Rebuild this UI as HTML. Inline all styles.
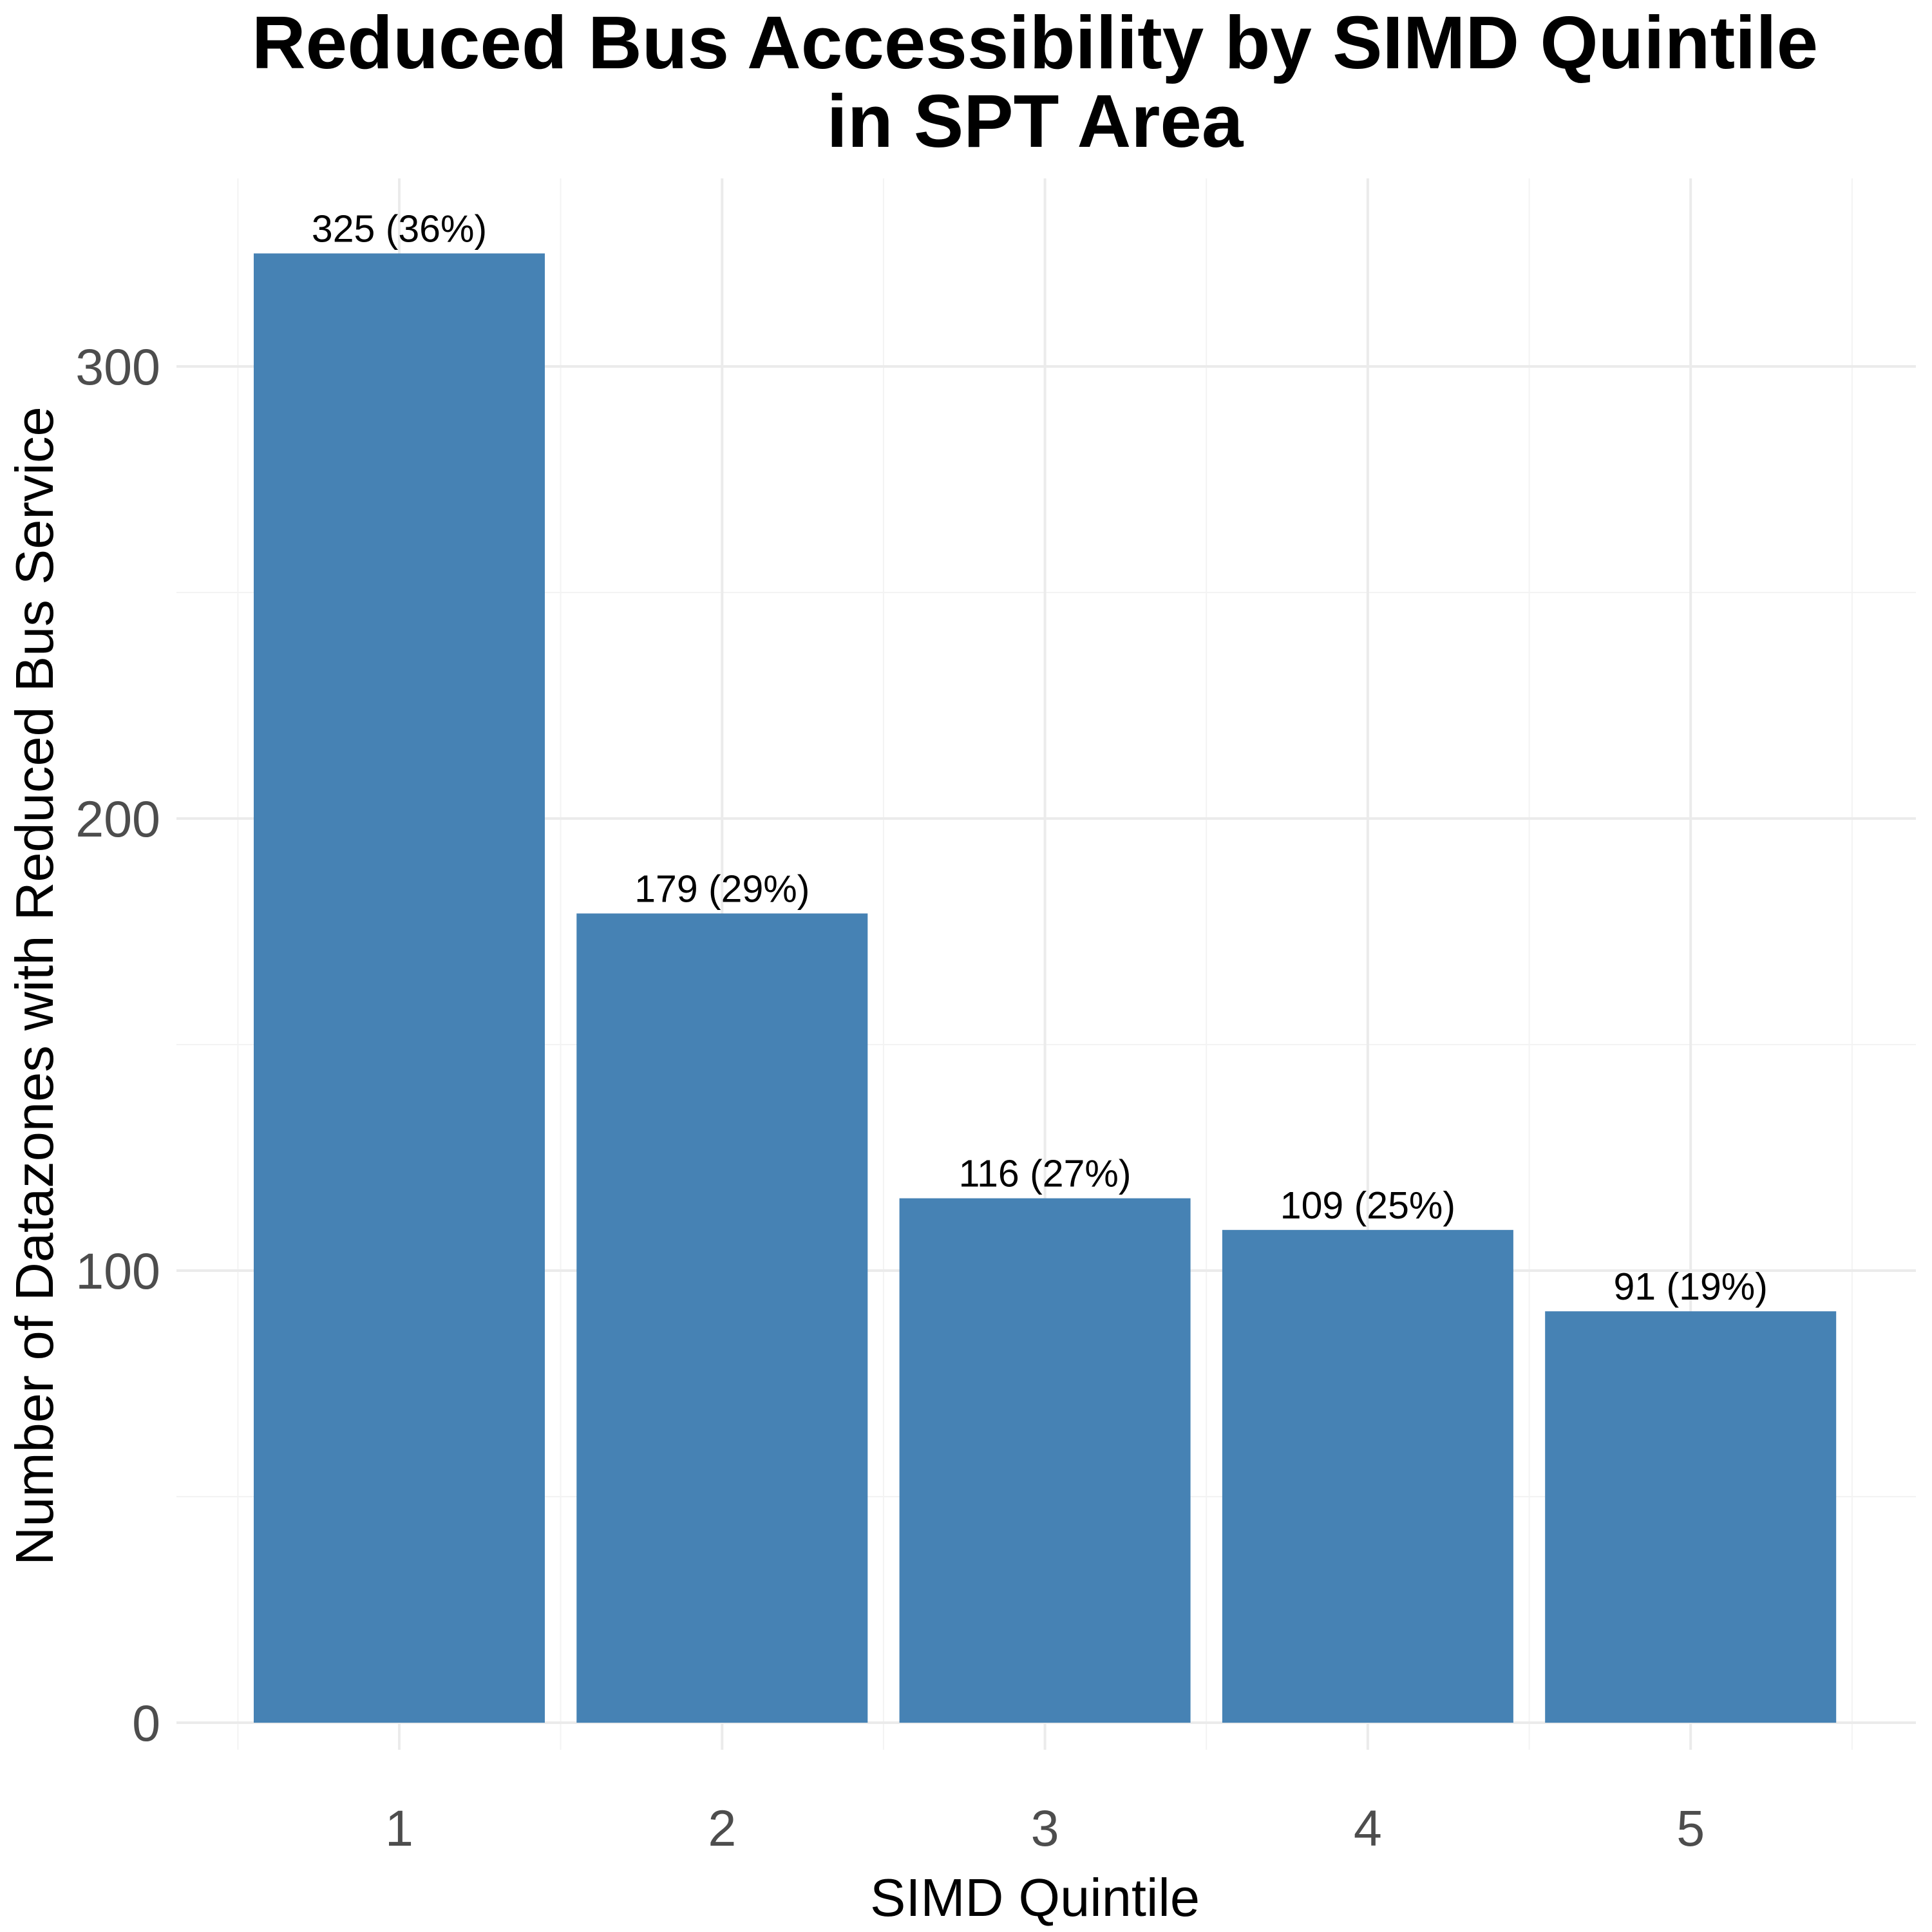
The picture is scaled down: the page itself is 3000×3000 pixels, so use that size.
<!DOCTYPE html>
<html><head><meta charset="utf-8"><style>
html,body{margin:0;padding:0;background:#fff;}
svg{display:block;font-family:"Liberation Sans",Arial,sans-serif;}
</style></head><body>
<svg id="chart" width="3000" height="3000" viewBox="0 0 3000 3000" xmlns="http://www.w3.org/2000/svg">
<text x="1607" y="106" text-anchor="middle" font-size="116" font-weight="bold">Reduced Bus Accessibility by SIMD Quintile</text>
<text x="1607" y="228" text-anchor="middle" font-size="116" font-weight="bold">in SPT Area</text>
<g id="grid"></g>
<g id="bars"></g>
<g id="labels"></g>
<g id="yticks"></g>
<g id="xticks"></g>
<text x="1607" y="2975" text-anchor="middle" font-size="83">SIMD Quintile</text>
<text transform="translate(82,1531) rotate(-90)" text-anchor="middle" font-size="83">Number of Datazones with Reduced Bus Service</text>
</svg>
<script>
const categories = ["1","2","3","4","5"];
const values = [325,179,116,109,91];
const valueLabels = ["325 (36%)","179 (29%)","116 (27%)","109 (25%)","91 (19%)"];
const yTicks = [0,100,200,300];
const yMinor = [50,150,250];

const NS="http://www.w3.org/2000/svg";
const panelL=274, panelR=2975, panelT=277, panelB=2717;
function y(v){return 2675 - v*7.02;}
function x(i){return 620 + i*501.3;}
const halfW=226;
function mk(tag,attrs,parent){const e=document.createElementNS(NS,tag);for(const k in attrs)e.setAttribute(k,attrs[k]);parent.appendChild(e);return e;}
const grid=document.getElementById('grid');
yMinor.forEach(v=>{
  const l=mk('line',{x1:panelL,x2:panelR,y1:y(v),y2:y(v),stroke:'#f3f3f3','stroke-width':2},grid);
  
  
});
for(let i=0;i<=categories.length;i++){
  const xv=x(i)-250.65;
  const l=mk('line',{x1:xv,x2:xv,y1:panelT,y2:panelB,stroke:'#f3f3f3','stroke-width':2},grid);
  
  
}
yTicks.forEach(v=>{
  const l=mk('line',{x1:panelL,x2:panelR,y1:y(v),y2:y(v),stroke:'#ebebeb','stroke-width':4},grid);
  
  
  const t=mk('text',{x:249,y:y(v)+28,'text-anchor':'end','font-size':79,fill:'#4d4d4d'},document.getElementById('yticks'));
  t.textContent=v;
  
  
});
categories.forEach((c,i)=>{
  const l=mk('line',{x1:x(i),x2:x(i),y1:panelT,y2:panelB,stroke:'#ebebeb','stroke-width':4},grid);
  
  
  const r=mk('rect',{x:x(i)-halfW,y:y(values[i]),width:halfW*2,height:y(0)-y(values[i]),fill:'#4682b4'},document.getElementById('bars'));
  
  
  const t=mk('text',{x:x(i),y:y(values[i])-18,'text-anchor':'middle','font-size':59,fill:'#000'},document.getElementById('labels'));
  t.textContent=valueLabels[i];
  
  
  const xt=mk('text',{x:x(i),y:2866,'text-anchor':'middle','font-size':79,fill:'#4d4d4d'},document.getElementById('xticks'));
  xt.textContent=c;
  
  
});
</script>
</body></html>
